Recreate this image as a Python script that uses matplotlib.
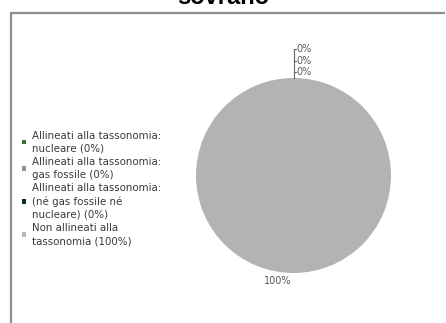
import numpy as np
import matplotlib
matplotlib.use("Agg")
import matplotlib.pyplot as plt
from matplotlib.patches import Rectangle

# allocation split
categories = [
    "Allineati alla tassonomia:\nnucleare (0%)",
    "Allineati alla tassonomia:\ngas fossile (0%)",
    "Allineati alla tassonomia:\n(né gas fossile né\nnucleare) (0%)",
    "Non allineati alla\ntassonomia (100%)",
]
values = [0, 0, 0, 100]
colors = ["#3e6b3e", "#7f9f7f", "#0f2e0f", "#b3b3b3"]
title = "sovrano"

W, H = 446, 323
fig = plt.figure(figsize=(W / 100, H / 100), dpi=100)
ax = fig.add_axes([0, 0, 1, 1])

def py(y):
    # pixel row -> data y
    return H - y

cx, cy, r = 293.5, py(175.5), 97.5
wedges, _ = ax.pie(values, colors=colors, center=(cx, cy), radius=r,
                   startangle=90, counterclock=False,
                   wedgeprops=dict(linewidth=0))

# frame lines (top and left)
ax.plot([10, 445], [py(12.5), py(12.5)], color="#8f8f8f", lw=1.6, solid_capstyle="butt")
ax.plot([10.5, 10.5], [py(12.5), 0], color="#8f8f8f", lw=1.6, solid_capstyle="butt")

# title, clipped at the top
fig.text(0.5, py(4) / H, title, ha="center", va="baseline", fontsize=17,
         fontweight="bold", family="Liberation Sans")

# data labels
total = sum(values)
lab_col = "#595959"
small = [i for i, v in enumerate(values) if v / total < 0.05]
top_y = cy + r
for k, i in enumerate(small):
    ly = py(72) + k * 11.3
    ax.text(cx + 2.5, ly, f"{values[i] / total:.0%}", ha="left", va="center",
            fontsize=7, color=lab_col)
    ax.plot([cx, cx + 2.5], [ly, ly], color="#666666", lw=0.8)
if small:
    ax.plot([cx, cx], [top_y, py(72) + (len(small) - 1) * 11.3], color="#666666", lw=0.8)

for i, v in enumerate(values):
    if v / total >= 0.05:
        ang = np.deg2rad((wedges[i].theta1 + wedges[i].theta2) / 2)
        lx = cx + (r + 8) * np.cos(ang) - 16
        ly = cy + (r + 8) * np.sin(ang)
        ax.text(lx, ly, f"{v / total:.0%}", ha="center", va="center",
                fontsize=7, color=lab_col)

# legend
pitch = 13.2
line = 0
for lab, c in zip(categories, colors):
    n = lab.count("\n") + 1
    ymid = 135.5 + (line + (n - 1) / 2) * pitch
    ax.add_patch(Rectangle((21.5, py(ymid) - 2.3), 4.6, 4.6, color=c, lw=0))
    ax.text(32, py(ymid), lab, ha="left", va="center", fontsize=7.4,
            linespacing=1.38, color="#3a3a3a")
    line += n

ax.set_xlim(0, W)
ax.set_ylim(0, H)
ax.axis("off")
fig.savefig("out.png", dpi=100)
